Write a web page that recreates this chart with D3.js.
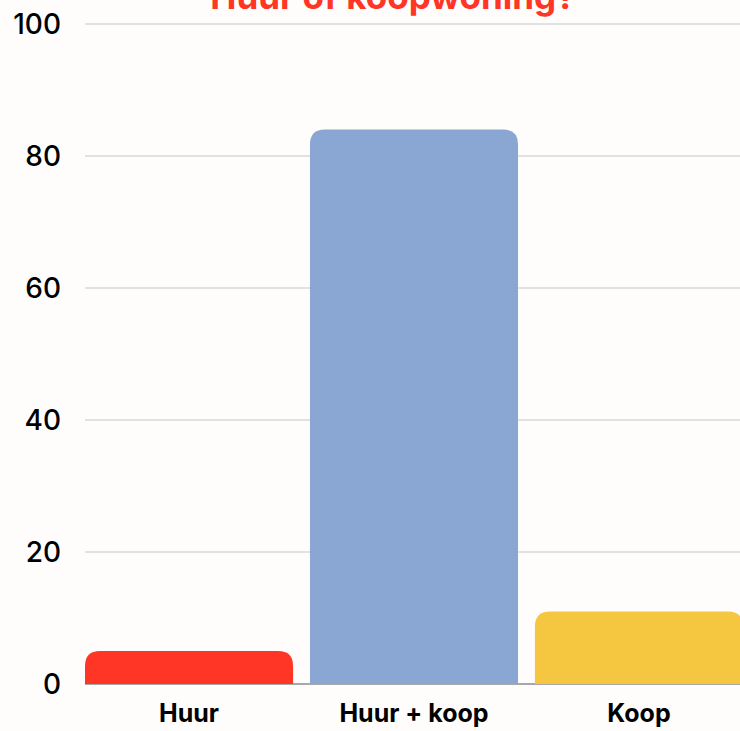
<!DOCTYPE html>
<html>
<head>
<meta charset="utf-8">
<script src="https://cdn.jsdelivr.net/npm/d3@7"></script>
<style>
  html, body { margin: 0; padding: 0; background: #fffdfc; overflow: hidden; }
  svg { display: block; font-family: Inter, "Noto Sans", sans-serif; }
</style>
</head>
<body>
<div id="chart"></div>
<script>
var categories = ["Huur", "Huur + koop", "Koop"];
var values = [5, 84, 11];
var colors = ["#ff3526", "#8aa7d4", "#f5c640"];
var yTicks = [0, 20, 40, 60, 80, 100];
var title = "Huur of koopwoning?";

var wid = 740,
    heig = 731;

var svg = d3.select("#chart").append("svg")
    .attr("width", wid)
    .attr("height", heig);

var x = d3.scaleBand()
    .domain(categories)
    .range([85, 743])
    .paddingInner(0.075)
    .paddingOuter(0);

var y = d3.scaleLinear()
    .domain([0, 100])
    .range([684, 24]);

// gridlines
svg.append("g").selectAll("line")
    .data(yTicks.filter(function(d) { return d > 0; }))
    .enter().append("line")
    .attr("x1", 85)
    .attr("x2", wid)
    .attr("y1", function(d) { return y(d); })
    .attr("y2", function(d) { return y(d); })
    .attr("stroke", "#d9d9d9")
    .attr("stroke-width", 1.5);

// baseline
svg.append("line")
    .attr("x1", 85).attr("x2", wid)
    .attr("y1", y(0)).attr("y2", y(0))
    .attr("stroke", "#a8a8a8")
    .attr("stroke-width", 2);

// y tick labels
svg.append("g").selectAll("text")
    .data(yTicks)
    .enter().append("text")
    .attr("x", 61)
    .attr("y", function(d) { return y(d); })
    .attr("dy", "0.36em")
    .attr("text-anchor", "end")
    .style("font-size", "28px")
    .style("font-weight", 500)
    .style("fill", "#000")
    .text(function(d) { return d; });

// bars with rounded top corners
function topRounded(x0, y0, w, h, r) {
  r = Math.min(r, h, w / 2);
  return "M" + x0 + "," + (y0 + h) +
    "V" + (y0 + r) +
    "Q" + x0 + "," + y0 + " " + (x0 + r) + "," + y0 +
    "H" + (x0 + w - r) +
    "Q" + (x0 + w) + "," + y0 + " " + (x0 + w) + "," + (y0 + r) +
    "V" + (y0 + h) + "Z";
}

svg.append("g").selectAll("path")
    .data(categories)
    .enter().append("path")
    .attr("d", function(d, i) {
      return topRounded(x(d), y(values[i]), x.bandwidth(), y(0) - y(values[i]), 15);
    })
    .attr("fill", function(d, i) { return colors[i]; });

// category labels
svg.append("g").selectAll("text")
    .data(categories)
    .enter().append("text")
    .attr("x", function(d) { return x(d) + x.bandwidth() / 2; })
    .attr("y", 722)
    .attr("text-anchor", "middle")
    .style("font-size", "25px")
    .style("font-weight", 700)
    .style("fill", "#000")
    .text(function(d) { return d; });

// title (cut off at the top, as in the source)
svg.append("text")
    .attr("x", 393)
    .attr("y", 9)
    .attr("text-anchor", "middle")
    .style("font-size", "35px")
    .style("font-weight", 700)
    .style("fill", "#ff3526")
    .text(title);
</script>
</body>
</html>
